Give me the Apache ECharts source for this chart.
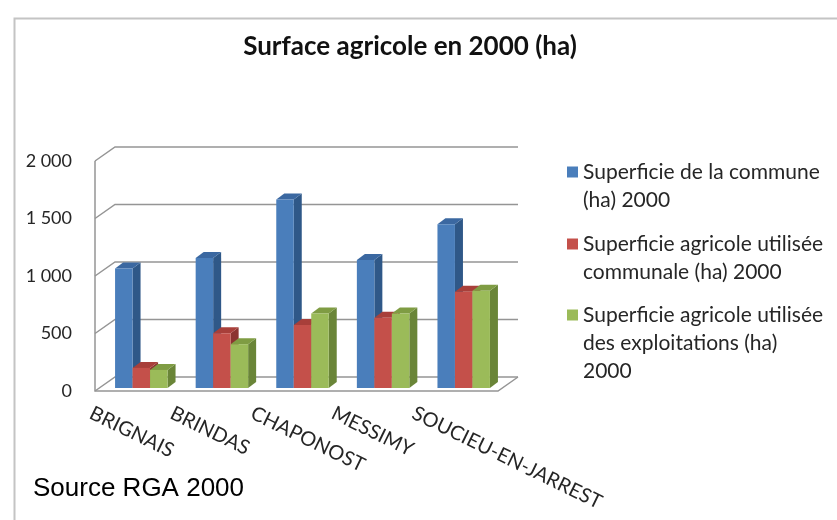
<!DOCTYPE html>
<html><head><meta charset="utf-8">
<script src="https://cdn.jsdelivr.net/npm/echarts@6/dist/echarts.min.js"></script>
<style>html,body{margin:0;padding:0;background:#fff}#c{width:837px;height:520px}</style>
</head><body><div id="c"></div>
<script>
const categories = ['BRIGNAIS', 'BRINDAS', 'CHAPONOST', 'MESSIMY', 'SOUCIEU-EN-JARREST'];
const seriesNames = [
  'Superficie de la commune (ha) 2000',
  'Superficie agricole utilisée communale (ha) 2000',
  'Superficie agricole utilisée des exploitations (ha) 2000'
];
const legendLines = [
  ['Superficie de la commune', '(ha) 2000'],
  ['Superficie agricole utilisée', 'communale (ha) 2000'],
  ['Superficie agricole utilisée', 'des exploitations (ha)', '2000']
];
const communeArea = [1040, 1130, 1640, 1113, 1425];
const sauCommunale = [175, 477, 548, 611, 837];
const sauExploitations = [157, 381, 648, 648, 845];
const yTicks = [0, 500, 1000, 1500, 2000];
const yTickLabels = ['0', '500', '1 000', '1 500', '2 000'];
const chartTitle = 'Surface agricole en 2000 (ha)';
const sourceText = 'Source RGA 2000';

const seriesValues = [communeArea, sauCommunale, sauExploitations];
const palettes = [
  { front: '#4a7ebb', side: '#2f5888', top: '#3b68a1' },
  { front: '#c4504a', side: '#8c3430', top: '#a83f3a' },
  { front: '#9bbb59', side: '#6a8538', top: '#7f9c43' }
];
const DEPTH_X = 20, DEPTH_Y = 14;
const BAR_SHIFT_X = 6, BAR_SHIFT_Y = 3;
const BAR_DX = 8, BAR_DY = 6;
const BAR_FRAC = 0.217;
const wallStyle = { stroke: '#959595', lineWidth: 1.5, fill: 'none' };

function makeBarRenderer(k) {
  return function (params, api) {
    const ci = api.value(0), v = api.value(1);
    const base = api.coord([ci, 0]);
    const top = api.coord([ci, v]);
    const band = api.size([1, 0])[0];
    const bw = band * BAR_FRAC;
    const x0 = base[0] - 1.5 * bw + k * bw + BAR_SHIFT_X;
    const yb = base[1] - BAR_SHIFT_Y, yt = top[1] - BAR_SHIFT_Y;
    const p = palettes[k];
    return { type: 'group', children: [
      { type: 'polygon', shape: { points: [[x0 + bw, yt], [x0 + bw + BAR_DX, yt - BAR_DY], [x0 + bw + BAR_DX, yb - BAR_DY], [x0 + bw, yb]] }, style: { fill: p.side } },
      { type: 'polygon', shape: { points: [[x0, yt], [x0 + BAR_DX, yt - BAR_DY], [x0 + bw + BAR_DX, yt - BAR_DY], [x0 + bw, yt]] }, style: { fill: p.top } },
      { type: 'rect', shape: { x: x0, y: yt, width: bw, height: yb - yt }, style: { fill: p.front } }
    ] };
  };
}

function renderWall(params, api) {
  const v = api.value(1);
  const cs = params.coordSys;
  const y = api.coord([0, v])[1];
  const xl = cs.x, xr = cs.x + cs.width;
  const children = [
    { type: 'polyline', shape: { points: [[xl, y], [xl + DEPTH_X, y - DEPTH_Y], [xr + DEPTH_X, y - DEPTH_Y]] }, style: wallStyle }
  ];
  if (v === yTicks[0]) {
    const yTop = api.coord([0, yTicks[yTicks.length - 1]])[1];
    children.push({ type: 'polyline', shape: { points: [[xl, yTop], [xl, y], [xr, y], [xr + DEPTH_X, y - DEPTH_Y]] }, style: wallStyle });
  }
  return { type: 'group', children };
}

const chart = echarts.init(document.getElementById('c'), null, { renderer: 'canvas' });

const legendTops = [130, 202, 245];
const legends = seriesNames.map((name, i) => ({
  data: [name],
  orient: 'vertical',
  left: 567,
  top: legendTops[i],
  padding: 0,
  itemWidth: 11,
  itemHeight: 11,
  icon: 'rect',
  selectedMode: false,
  formatter: () => {
    const lines = legendLines[i];
    const blanks = new Array(lines.length - 1).fill('');
    return blanks.concat(lines).join('\n');
  },
  textStyle: { fontFamily: 'Lato', fontSize: 21, color: '#262626', lineHeight: 28 }
}));

const option = {
  backgroundColor: '#ffffff',
  animation: false,
  title: {
    text: chartTitle,
    left: 410, top: 34, textAlign: 'center', padding: 0,
    textStyle: { fontFamily: 'Lato', fontWeight: 'bold', fontSize: 26, color: '#111' }
  },
  legend: legends,
  grid: [
    { left: 95, width: 403, top: 161, bottom: 129, outerBoundsMode: 'none' },
    { left: 55, width: 403, top: 161, bottom: 129, outerBoundsMode: 'none' }
  ],
  xAxis: [
    { type: 'category', data: categories, gridIndex: 0, axisLine: { show: false }, axisTick: { show: false }, axisLabel: { show: false } },
    { type: 'category', data: categories, gridIndex: 1, axisLine: { show: false }, axisTick: { show: false },
      axisLabel: { interval: 0, rotate: -26, align: 'left', verticalAlign: 'top', margin: 12,
        fontFamily: 'Lato', fontSize: 20, color: '#262626' } }
  ],
  yAxis: [
    { type: 'value', gridIndex: 0, min: 0, max: 2000, interval: 500,
      axisLine: { show: false }, axisTick: { show: false }, splitLine: { show: false },
      axisLabel: { margin: 23, fontFamily: 'Lato', fontSize: 18, color: '#262626', padding: [6, 0, 0, 0],
        formatter: v => yTickLabels[yTicks.indexOf(v)] } },
    { type: 'value', gridIndex: 1, min: 0, max: 2000, show: false }
  ],
  series: [
    { type: 'custom', name: 'wall', xAxisIndex: 0, yAxisIndex: 0, silent: true, z: 1, clip: false,
      renderItem: renderWall, data: yTicks.map(v => [0, v]) }
  ].concat(seriesNames.map((name, k) => ({
    type: 'custom', name: name, xAxisIndex: 0, yAxisIndex: 0, z: 2, clip: false,
    itemStyle: { color: palettes[k].front },
    renderItem: makeBarRenderer(k),
    encode: { x: 0, y: 1 },
    data: seriesValues[k].map((v, i) => [i, v])
  }))),
  graphic: [
    { type: 'rect', left: 12, top: 16, shape: { width: 900, height: 600 }, style: { fill: 'none', stroke: '#c4c4c4', lineWidth: 2 }, silent: true, z: -10 },
    { type: 'text', left: 33, top: 476, style: { text: sourceText, fontFamily: 'Liberation Sans', fontSize: 26, fill: '#000' } }
  ]
};
chart.setOption(option);
</script>
</body></html>
